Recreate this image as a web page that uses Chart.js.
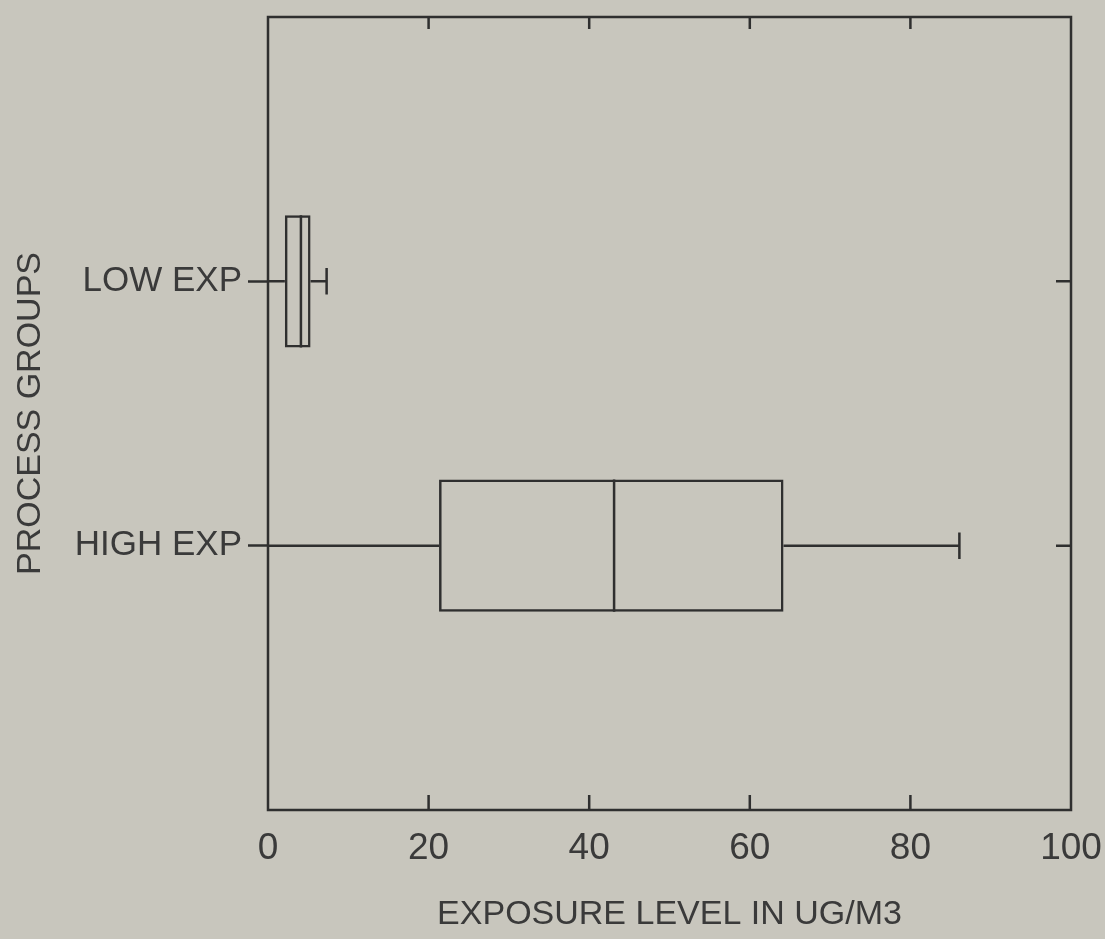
<!DOCTYPE html>
<html>
<head>
<meta charset="utf-8">
<script src="https://cdn.jsdelivr.net/npm/chart.js@4/dist/chart.umd.min.js"></script>
<style>
  html, body { margin: 0; padding: 0; background: #c8c6bd; }
  #wrap { width: 1105px; height: 939px; }
</style>
</head>
<body>
<div id="wrap"><canvas id="grafico"></canvas></div>
<script>
// grupos de proceso y resumen de cinco números (ug/m3)
const grupos = ["LOW EXP", "HIGH EXP"];
const minimos = [0, 0];
const q1 = [2.1, 21.3];
const medianas = [4.1, 43.1];
const q3 = [5.3, 64.2];
const maximos = [7.3, 86.1];
const ticksX = [0, 20, 40, 60, 80, 100];

// huecos arriba y abajo para que los grupos queden en los tercios
const etiquetasY = ["", ...grupos, ""];

const tinta = "#2f2f2f";
const texto = "#3a3a3a";
const fuente = "'Liberation Sans', Arial, sans-serif";

// bigotes, medianas, marco y marcas interiores
const cajas = {
  id: "cajas",
  afterDatasetsDraw(chart) {
    const { ctx, chartArea: a } = chart;
    const x = chart.scales.x;
    const y = chart.scales.y;
    const alto = chart.getDatasetMeta(0).data[0].height;

    ctx.save();
    ctx.strokeStyle = tinta;
    ctx.lineWidth = 2.5;

    grupos.forEach((g, i) => {
      const py = y.getPixelForValue(i + 1);
      const cap = alto * 0.2;
      ctx.beginPath();
      // bigote inferior
      ctx.moveTo(x.getPixelForValue(minimos[i]), py);
      ctx.lineTo(x.getPixelForValue(q1[i]), py);
      // bigote superior con su tope
      ctx.moveTo(x.getPixelForValue(q3[i]), py);
      ctx.lineTo(x.getPixelForValue(maximos[i]), py);
      ctx.moveTo(x.getPixelForValue(maximos[i]), py - cap / 2);
      ctx.lineTo(x.getPixelForValue(maximos[i]), py + cap / 2);
      // mediana
      ctx.moveTo(x.getPixelForValue(medianas[i]), py - alto / 2);
      ctx.lineTo(x.getPixelForValue(medianas[i]), py + alto / 2);
      ctx.stroke();
    });

    // marco
    ctx.strokeRect(a.left, a.top, a.right - a.left, a.bottom - a.top);

    // marcas hacia dentro: arriba, abajo y a la derecha
    ctx.beginPath();
    ticksX.slice(1, -1).forEach(v => {
      const px = x.getPixelForValue(v);
      ctx.moveTo(px, a.bottom);
      ctx.lineTo(px, a.bottom - 15);
      ctx.moveTo(px, a.top);
      ctx.lineTo(px, a.top + 12);
    });
    grupos.forEach((g, i) => {
      const py = y.getPixelForValue(i + 1);
      ctx.moveTo(a.right, py);
      ctx.lineTo(a.right - 15, py);
    });
    ctx.stroke();
    ctx.restore();
  }
};

const ctx = document.getElementById("grafico").getContext("2d");
new Chart(ctx, {
  type: "bar",
  data: {
    labels: etiquetasY,
    datasets: [
      {
        data: grupos.map((g, i) => ({ x: [q1[i], q3[i]], y: g })),
        backgroundColor: "rgba(0,0,0,0)",
        borderColor: tinta,
        borderWidth: 2.5,
        borderSkipped: false,
        categoryPercentage: 1,
        barPercentage: 0.5
      }
    ]
  },
  options: {
    indexAxis: "y",
    responsive: true,
    maintainAspectRatio: false,
    animation: false,
    layout: { padding: { top: 17, right: 34, left: 0, bottom: 0 } },
    plugins: {
      legend: { display: false },
      tooltip: { enabled: false }
    },
    scales: {
      x: {
        type: "linear",
        min: 0,
        max: 100,
        afterBuildTicks: s => { s.ticks = ticksX.map(v => ({ value: v })); },
        afterFit: s => {
          s.height = 129;
          s.paddingLeft = 0;
          s.paddingRight = 0;
        },
        border: { display: false },
        grid: { drawOnChartArea: false, drawTicks: false },
        ticks: {
          padding: 17,
          maxRotation: 0,
          color: texto,
          font: { family: fuente, size: 37 }
        },
        title: {
          display: true,
          text: "EXPOSURE LEVEL IN UG/M3",
          color: texto,
          font: { family: fuente, size: 34 },
          padding: { top: 4 }
        }
      },
      y: {
        type: "category",
        offset: false,
        afterFit: s => {
          s.width = 268;
          s.paddingTop = 0;
          s.paddingBottom = 0;
        },
        border: { display: false },
        grid: {
          offset: false,
          drawOnChartArea: false,
          tickLength: 20,
          tickWidth: 2.5,
          tickColor: c => (etiquetasY[c.index] ? tinta : "rgba(0,0,0,0)")
        },
        ticks: {
          padding: 6,
          color: texto,
          font: { family: fuente, size: 35 }
        },
        title: {
          display: true,
          text: "PROCESS GROUPS",
          color: texto,
          font: { family: fuente, size: 34 },
          padding: { top: 10 }
        }
      }
    }
  },
  plugins: [cajas]
});
</script>
</body>
</html>
